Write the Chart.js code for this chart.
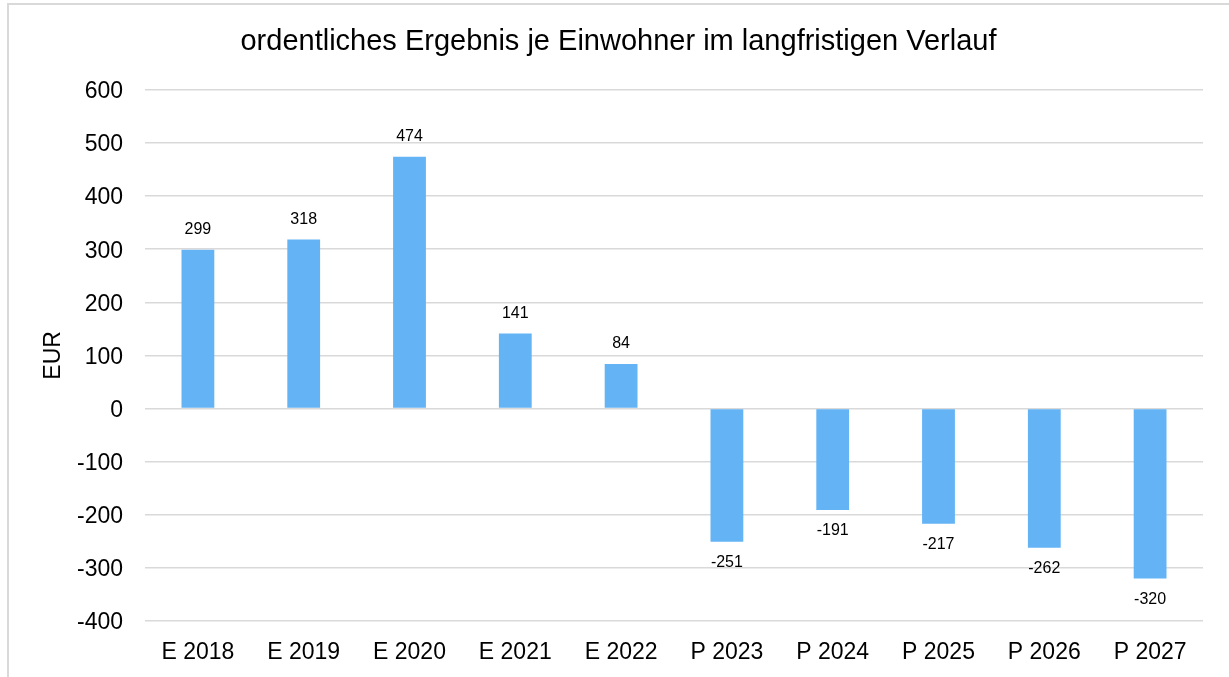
<!DOCTYPE html>
<html lang="de">
<head>
<meta charset="utf-8">
<script src="https://cdn.jsdelivr.net/npm/chart.js@4.4.1/dist/chart.umd.min.js"></script>
<style>
  html, body { margin: 0; padding: 0; background: #fff; overflow: hidden; }
  .frame {
    position: absolute; left: 7px; top: 3px;
    width: 1300px; height: 760px;
    border: 2px solid #d9d9d9; box-sizing: border-box;
  }
  .wrap { position: absolute; left: 0; top: 0; width: 1229px; height: 677px; }
</style>
</head>
<body>
<div class="frame"></div>
<div class="wrap"><canvas id="chart"></canvas></div>
<script>
// Daten
const categories = ['E 2018', 'E 2019', 'E 2020', 'E 2021', 'E 2022', 'P 2023', 'P 2024', 'P 2025', 'P 2026', 'P 2027'];
const werte = [299, 318, 474, 141, 84, -251, -191, -217, -262, -320];

const FONT = "'Liberation Sans', Arial, sans-serif";

// Werte über/unter den Balken schreiben
const valueLabels = {
  id: 'valueLabels',
  afterDatasetsDraw(chart) {
    const ctx = chart.ctx;
    const meta = chart.getDatasetMeta(0);
    ctx.save();
    ctx.font = `16px ${FONT}`;
    ctx.fillStyle = '#000';
    ctx.textAlign = 'center';
    ctx.textBaseline = 'middle';
    meta.data.forEach((bar, i) => {
      const v = werte[i];
      const y = v >= 0 ? bar.y - 20 : bar.y + 21;
      ctx.fillText(String(v), bar.x, y);
    });
    ctx.restore();
  }
};

new Chart(document.getElementById('chart'), {
  type: 'bar',
  data: {
    labels: categories,
    datasets: [{
      data: werte,
      backgroundColor: '#63b3f5',
      borderWidth: 0,
      barPercentage: 0.31,
      categoryPercentage: 1
    }]
  },
  options: {
    responsive: true,
    maintainAspectRatio: false,
    animation: false,
    layout: { padding: { left: 34, right: 26, top: 0, bottom: 0 } },
    plugins: {
      legend: { display: false },
      tooltip: { enabled: false },
      title: {
        display: true,
        text: 'ordentliches Ergebnis je Einwohner im langfristigen Verlauf',
        color: '#000',
        font: { family: FONT, size: 29, weight: 'normal' },
        padding: { top: 25, bottom: 30 }
      }
    },
    scales: {
      x: {
        grid: { display: false },
        border: { display: false },
        ticks: { color: '#000', font: { family: FONT, size: 23 }, padding: 10, maxRotation: 0 },
        afterFit(scale) { scale.height = 56; }
      },
      y: {
        min: -400,
        max: 600,
        grid: { color: '#d9d9d9', lineWidth: 1.5, drawTicks: false },
        border: { display: false },
        ticks: { stepSize: 100, color: '#000', font: { family: FONT, size: 23 }, padding: 22, labelOffset: 2 },
        title: {
          display: true,
          text: 'EUR',
          color: '#000',
          font: { family: FONT, size: 23 },
          padding: { top: 6, bottom: 0 }
        },
        afterFit(scale) { scale.width = 111; }
      }
    }
  },
  plugins: [valueLabels]
});
</script>
</body>
</html>
